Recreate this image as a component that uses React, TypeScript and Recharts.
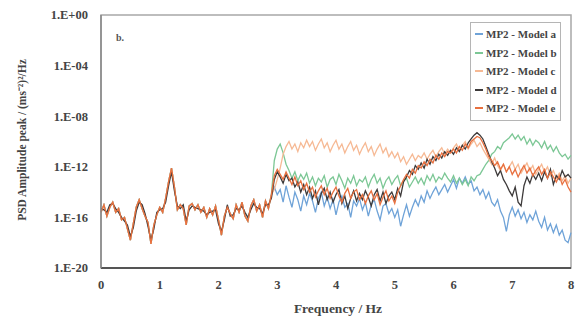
import { LineChart, Line, XAxis, YAxis, Label, ReferenceArea } from "recharts"

// log10 of PSD amplitude, sampled every 0.05 Hz
const lowBand = [
  -15.6, -15.0, -15.9, -15.2, -14.8, -15.6, -15.3, -16.2, -16.0, -16.9,
  -17.8, -16.5, -15.2, -14.6, -15.3, -15.9, -16.4, -18.1, -16.6, -15.8,
  -15.2, -15.6, -14.5, -13.2, -12.1, -13.6, -15.4, -15.0, -15.3, -16.6,
  -15.1, -14.9, -15.4, -15.0, -15.6, -15.2, -16.0, -15.3, -15.8, -15.1,
  -16.2, -17.4, -15.9, -15.2, -15.7, -16.1, -15.0, -15.6, -14.8, -15.9,
  -16.3, -15.1, -14.6, -15.5, -15.0, -16.0, -14.7, -15.3, -14.2,
]

const lowBandDark = [
  -15.3, -15.4, -15.6, -15.0, -14.9, -15.3, -15.6, -16.0, -16.3, -16.6,
  -17.5, -16.8, -15.5, -14.8, -15.0, -15.7, -16.7, -17.8, -16.9, -15.6,
  -15.4, -15.3, -14.8, -13.5, -12.4, -13.9, -15.1, -15.3, -15.0, -16.3,
  -15.4, -15.1, -15.2, -15.3, -15.4, -15.5, -15.8, -15.6, -15.5, -15.4,
  -16.5, -17.1, -16.2, -15.0, -15.9, -15.8, -15.3, -15.4, -15.1, -15.6,
  -16.0, -15.4, -14.9, -15.2, -15.3, -15.7, -15.0, -15.0, -14.5,
]

const modelA = [
  -13.6, -14.2, -13.8, -14.8, -13.5, -14.4, -15.2, -14.0, -14.6, -15.5,
  -14.3, -15.0, -14.1, -14.7, -15.6, -14.5, -14.0, -15.1, -14.4, -15.3,
  -14.6, -15.8, -14.8, -14.3, -15.2, -14.9, -16.0, -14.7, -15.1, -14.5,
  -15.4, -14.8, -15.9, -15.0, -14.6, -15.5, -16.2, -15.1, -14.9, -15.7,
  -15.3, -16.0, -15.4, -16.7, -15.8, -15.0, -15.9, -15.2, -14.6, -15.1,
  -14.3, -14.8, -13.9, -14.5, -14.0, -13.6, -14.2, -13.8, -13.4, -14.0,
  -13.5, -13.0, -13.7, -12.9, -13.3, -12.8, -13.4, -13.1, -13.9, -13.6,
  -14.2, -13.8, -14.5, -14.0, -14.8, -15.1, -14.6, -15.5, -16.0, -17.1,
  -15.8, -15.2, -15.9, -15.4, -16.1, -15.6, -16.4, -15.8, -16.2, -15.5,
  -16.3, -16.8, -16.0, -17.0, -16.5, -17.2, -16.6, -17.4, -17.0, -17.8,
  -18.0, -17.2,
]

const modelB = [
  -11.5, -10.6, -10.2, -10.9, -11.8, -12.3, -12.9, -12.4, -13.1, -12.6,
  -13.0, -12.5, -13.3, -12.8, -13.5, -12.9, -13.2, -12.7, -13.6, -13.0,
  -12.8, -13.4, -12.6, -13.1, -13.7, -12.9, -13.3, -12.7, -13.5, -13.0,
  -13.2, -12.8, -13.6, -13.0, -12.6, -13.3, -12.9, -13.7, -13.1, -12.8,
  -13.4, -13.0, -12.7, -13.5, -13.1, -12.9, -13.6, -13.2, -12.8, -13.3,
  -12.9, -13.4, -12.7, -13.1, -12.6, -13.2, -12.8, -13.0, -12.5, -12.9,
  -13.2, -12.7, -13.3, -12.9, -13.4, -13.0, -13.5, -12.8, -13.1, -12.7,
  -12.6, -12.2, -11.8, -11.5, -11.0, -10.8, -10.4, -10.6, -10.1, -9.9,
  -9.7, -9.4, -9.8, -9.5, -9.9, -9.6, -10.2, -9.8, -10.3, -9.9,
  -10.1, -10.5, -10.0, -10.6, -10.3, -10.8, -10.4, -10.9, -11.2, -11.0,
  -11.4, -11.1,
]

const modelC = [
  -13.8, -13.0, -12.1, -11.0, -10.4, -10.0, -10.6, -10.2, -10.8, -10.1,
  -10.5, -9.9, -10.4, -10.0, -10.7, -10.2, -9.8, -10.5, -10.1, -10.8,
  -10.3, -9.9, -10.6, -10.2, -10.9, -10.4, -10.0, -10.7, -10.3, -11.0,
  -10.5, -10.1, -10.8, -10.4, -11.1, -10.6, -10.2, -10.9, -10.5, -11.2,
  -10.8, -11.3, -10.9, -11.6, -11.2, -11.8, -11.4, -11.0, -11.5, -11.1,
  -11.3, -10.9, -11.4, -11.0, -10.7, -11.2, -10.8, -10.5, -11.0, -10.6,
  -10.9, -10.5, -10.2, -10.7, -10.3, -10.0, -10.6, -10.2, -9.9, -10.4,
  -10.1, -10.6, -11.0, -11.4, -11.8, -11.3, -11.9, -12.3, -11.8, -12.4,
  -12.0, -11.6, -12.2, -11.8, -12.5, -12.1, -11.7, -12.3, -11.9, -12.6,
  -12.2, -11.8, -12.4, -12.0, -12.7, -12.3, -12.9, -12.5, -13.1, -12.7,
  -13.3, -12.9,
]

const modelD = [
  -13.0, -12.4, -12.8, -13.3, -12.6, -13.1, -12.9, -13.6, -13.2, -14.0,
  -13.4, -14.2, -13.6, -14.5, -13.9, -15.0, -14.1, -13.7, -14.6, -14.0,
  -14.8, -14.2, -13.8, -14.9, -14.3, -15.3, -14.5, -13.9, -14.7, -14.1,
  -14.6, -13.9, -14.4, -15.1, -14.2, -13.8, -14.7, -14.0, -14.9, -14.3,
  -14.0, -14.6, -13.7, -14.3, -13.2, -12.8, -12.3, -12.6, -11.9, -12.2,
  -11.7, -12.1, -11.4, -11.8, -11.2, -11.5, -11.0, -11.3, -10.8, -11.1,
  -10.7, -11.0, -10.5, -10.8, -10.3, -10.6, -10.1, -9.8, -9.5, -9.3,
  -9.5, -9.8, -10.4, -11.0, -11.6, -12.1, -12.7, -12.3, -13.0, -13.4,
  -13.9, -14.3, -13.6, -14.8, -15.1, -13.5, -12.8, -13.3, -12.6, -13.0,
  -12.5, -13.1, -12.4, -12.9, -12.2, -13.4, -12.7, -13.0, -12.3, -12.8,
  -12.6, -12.9,
]

const modelE = [
  -12.7, -12.2, -12.6, -13.0, -12.4, -12.9, -13.4, -12.8, -13.5, -13.1,
  -13.8, -13.3, -14.0, -13.6, -14.4, -13.9, -13.5, -14.2, -13.7, -14.5,
  -14.0, -13.6, -14.3, -14.8, -14.1, -13.7, -14.5, -14.0, -13.8, -14.6,
  -14.2, -14.9, -14.3, -13.9, -14.6, -14.1, -15.0, -14.4, -13.9, -14.7,
  -14.3, -14.9, -14.0, -13.5, -13.0, -12.6, -12.9, -12.2, -12.5, -11.9,
  -12.1, -11.6, -11.9, -11.4, -11.7, -11.1, -11.4, -10.9, -11.2, -10.8,
  -10.9, -10.6, -10.9, -10.4, -10.7, -10.2, -10.5, -10.0, -9.8, -9.6,
  -9.7, -10.1, -10.6, -11.2, -11.5, -11.9, -11.6, -12.2, -11.8, -12.4,
  -12.0, -12.6, -12.2, -12.8, -12.3, -11.9, -12.5, -12.1, -12.7, -12.3,
  -12.0, -12.6, -12.2, -12.9, -12.4, -12.8, -13.2, -12.7, -13.4, -13.0,
  -13.6, -14.0,
]

const xTicks = [0, 1, 2, 3, 4, 5, 6, 7, 8]
const yTicks = [-20, -16, -12, -8, -4, 0]

const series = [
  { key: "a", name: "MP2 - Model a", color: "#6fa3d8", values: [...lowBand, ...modelA] },
  { key: "b", name: "MP2 - Model b", color: "#7cc795", values: [...lowBand, ...modelB] },
  { key: "c", name: "MP2 - Model c", color: "#f6b994", values: [...lowBand, ...modelC] },
  { key: "d", name: "MP2 - Model d", color: "#3d3a3a", values: [...lowBandDark, ...modelD] },
  { key: "e", name: "MP2 - Model e", color: "#e8703f", values: [...lowBand, ...modelE] },
]

const freqs = series[0].values.map((_, i) => Math.round(i * 5) / 100)
const data = freqs.map((f, i) => {
  const row: Record<string, number> = { f }
  series.forEach((s) => (row[s.key] = s.values[i]))
  return row
})

const font = "'Liberation Serif', 'Times New Roman', serif"

const fmtExp = (v: number) => {
  const n = Math.abs(v).toString().padStart(2, "0")
  return `1.E${v >= 0 ? "+" : "-"}${n}`
}

function LegendBox() {
  return (
    <div
      style={{
        position: "absolute",
        left: 470,
        top: 22,
        border: "1px solid #b5b5b5",
        background: "#fff",
        padding: "2px 3px 2px 4px",
        fontFamily: font,
        fontWeight: "bold",
        fontSize: 11,
        color: "#444",
      }}
    >
      {series.map((s) => (
        <div key={s.key} style={{ display: "flex", alignItems: "center", height: 18.5 }}>
          <span style={{ display: "inline-block", width: 8, height: 2, background: s.color, marginRight: 3 }} />
          {s.name}
        </div>
      ))}
    </div>
  )
}

export default function App() {
  return (
    <div style={{ position: "absolute", left: 0, top: 0, width: 579, height: 320, background: "#fff" }}>
      <LineChart width={579} height={320} data={data} margin={{ top: 15, right: 8, bottom: 0, left: 0 }}>
        <XAxis
          dataKey="f"
          type="number"
          domain={[0, 8]}
          ticks={xTicks}
          height={52}
          axisLine={{ stroke: "#555", strokeWidth: 2 }}
          tickLine={false}
          tickMargin={6}
          tick={{ fontFamily: font, fontWeight: "bold", fontSize: 12.5, fill: "#444" }}
        >
          <Label
            content={() => (
              <text x={338} y={313} textAnchor="middle" fontFamily={font} fontWeight="bold" fontSize={13.5} fill="#444">
                Frequency / Hz
              </text>
            )}
          />
        </XAxis>
        <YAxis
          type="number"
          domain={[-20, 0]}
          ticks={yTicks}
          width={101}
          allowDataOverflow
          axisLine={{ stroke: "#888", strokeWidth: 1.5 }}
          tickLine={false}
          tickMargin={7}
          tickFormatter={fmtExp}
          tick={{ fontFamily: font, fontWeight: "bold", fontSize: 12.5, fill: "#444" }}
        >
          <Label
            content={() => (
              <text
                x={26}
                y={140}
                transform="rotate(-90 26 140)"
                textAnchor="middle"
                fontFamily={font}
                fontWeight="bold"
                fontSize={11.5}
                fill="#444"
              >
                PSD Amplitude peak / (ms⁻²)²/Hz
              </text>
            )}
          />
        </YAxis>
        <ReferenceArea x1={0} x2={8} y1={-20} y2={0} fill="none" stroke="#a8a8a8" strokeWidth={1.5} ifOverflow="visible">
          <Label
            content={() => (
              <text x={116} y={41} fontFamily={font} fontWeight="bold" fontSize={10} fill="#555">
                b.
              </text>
            )}
          />
        </ReferenceArea>
        {series.map((s) => (
          <Line
            key={s.key}
            dataKey={s.key}
            name={s.name}
            stroke={s.color}
            strokeWidth={1.3}
            dot={false}
            isAnimationActive={false}
          />
        ))}
      </LineChart>
      <LegendBox />
    </div>
  )
}
